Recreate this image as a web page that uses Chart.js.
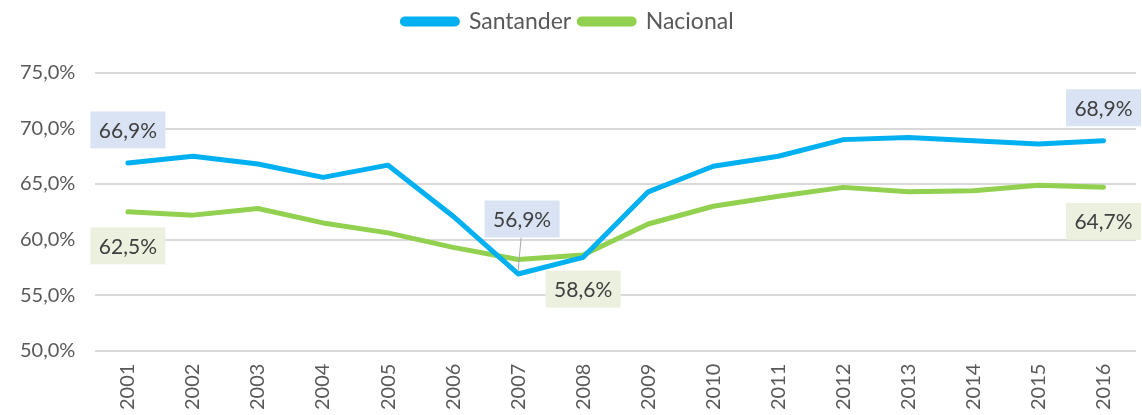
<!DOCTYPE html>
<html>
<head>
<meta charset="utf-8">
<script src="https://cdn.jsdelivr.net/npm/chart.js@4"></script>
<style>
  body { margin:0; background:#fff; }
  #wrap { width:1142px; height:415px; position:relative; }
</style>
</head>
<body>
<div id="wrap"><canvas id="chart"></canvas></div>
<script>
const years = ["2001","2002","2003","2004","2005","2006","2007","2008","2009","2010","2011","2012","2013","2014","2015","2016"];
const santander = [66.9,67.5,66.8,65.6,66.7,62.1,56.9,58.4,64.3,66.6,67.5,69.0,69.2,68.9,68.6,68.9];
const nacional  = [62.5,62.2,62.8,61.5,60.6,59.3,58.2,58.6,61.4,63.0,63.9,64.7,64.3,64.4,64.9,64.7];
// which points get a value box
const santanderLabelIdx = [0,6,15];
const nacionalLabelIdx = [0,7,15];

const fmt = v => v.toFixed(1).replace('.', ',') + '%';
const FONT = 'Lato';

// draws the boxed value labels
const boxLabels = {
    id: 'boxLabels',
    afterDatasetsDraw(chart) {
        const ctx = chart.ctx;
        const specs = [
            {ds:0, idxs:santanderLabelIdx, bg:'#DAE3F3', dy:-33},
            {ds:1, idxs:nacionalLabelIdx, bg:'#EBF0DF', dy:34}
        ];
        ctx.save();
        ctx.font = '21px ' + FONT;
        ctx.textAlign = 'center';
        ctx.textBaseline = 'middle';
        specs.forEach(s => {
            const meta = chart.getDatasetMeta(s.ds);
            const vals = chart.data.datasets[s.ds].data;
            s.idxs.forEach(i => {
                const pt = meta.data[i];
                let dy = s.dy, dx = 0;
                // the 2007 Santander label sits higher, with a leader line
                if (s.ds === 0 && i === 6) { dy = -55; dx = 4; }
                const cx = pt.x + dx, cy = pt.y + dy;
                const w = 75, h = 37;
                if (s.ds === 0 && i === 6) {
                    ctx.strokeStyle = '#A6A6A6';
                    ctx.lineWidth = 1;
                    ctx.beginPath();
                    ctx.moveTo(pt.x, pt.y - 3);
                    ctx.lineTo(cx - 1, cy + h/2);
                    ctx.stroke();
                }
                ctx.fillStyle = s.bg;
                ctx.fillRect(cx - w/2, cy - h/2, w, h);
                ctx.fillStyle = '#404040';
                ctx.fillText(fmt(vals[i]), cx, cy + 1);
            });
        });
        ctx.restore();
    }
};

// extra room under the legend
const legendGap = {
    id: 'legendGap',
    beforeInit(chart) {
        const fit = chart.legend.fit;
        chart.legend.fit = function() {
            fit.bind(chart.legend)();
            this.height += 30;
        };
    }
};

new Chart(document.getElementById('chart'), {
    type: 'line',
    data: {
        labels: years,
        datasets: [
            {label:'Santander', data:santander, borderColor:'#00B0F0', backgroundColor:'#00B0F0',
             borderWidth:5, pointRadius:0, tension:0, borderCapStyle:'round', borderJoinStyle:'round'},
            {label:'Nacional', data:nacional, borderColor:'#92D050', backgroundColor:'#92D050',
             borderWidth:5, pointRadius:0, tension:0, borderCapStyle:'round', borderJoinStyle:'round'}
        ]
    },
    options: {
        responsive:true, maintainAspectRatio:false, animation:false,
        layout:{ padding:{left:0, right:6, top:2, bottom:0} },
        plugins: {
            legend: {
                position:'top',
                labels: {
                    boxWidth:55, boxHeight:5, useBorderRadius:true, borderRadius:2.5,
                    color:'#595959', font:{family:FONT, size:23}, padding:8
                }
            },
            tooltip:{enabled:false}
        },
        scales: {
            x: {
                offset:true,
                grid:{display:false},
                border:{display:false},
                ticks:{color:'#595959', font:{family:FONT, size:20}, maxRotation:90, minRotation:90, padding:5}
            },
            y: {
                min:50, max:75,
                grid:{color:'#D9D9D9', lineWidth:2, drawTicks:false},
                border:{display:false},
                ticks:{stepSize:5, color:'#595959', font:{family:FONT, size:20}, padding:20, callback:v => fmt(v)}
            }
        }
    },
    plugins:[boxLabels, legendGap]
});
</script>
</body>
</html>
